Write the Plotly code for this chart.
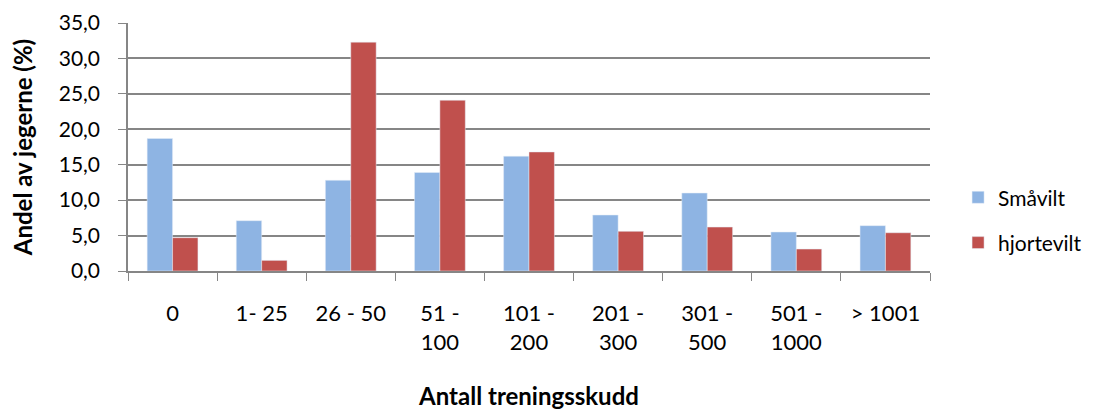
import plotly.graph_objects as go

# categories and values
kategorier = ["0", "1- 25", "26 - 50", "51 -<br>100", "101 -<br>200",
              "201 -<br>300", "301 -<br>500", "501 -<br>1000", "> 1001"]
smaavilt = [18.7, 7.1, 12.8, 13.9, 16.2, 7.9, 11.0, 5.5, 6.4]
hjortevilt = [4.7, 1.5, 32.3, 24.1, 16.8, 5.6, 6.2, 3.1, 5.4]
y_ticks = [0, 5, 10, 15, 20, 25, 30, 35]
y_labels = [f"{v:.1f}".replace(".", ",") for v in y_ticks]

font = "Lato, Open Sans, sans-serif"

fig = go.Figure()
fig.add_trace(go.Bar(x=kategorier, y=smaavilt, name="Småvilt",
                     marker_color="#8EB4E3", legendgroup="a"))
fig.add_trace(go.Bar(x=kategorier, y=hjortevilt, name="hjortevilt",
                     marker_color="#C0504D", legendgroup="b"))

# page body adds 8px margin, so the figure is a bit smaller than the window
fig.update_layout(
    width=1087, height=402,
    barmode="group", bargap=0.43, bargroupgap=0,
    paper_bgcolor="white", plot_bgcolor="white",
    margin=dict(l=120, r=165, t=15, b=139, autoexpand=False),
    font=dict(family=font, size=21, color="black"),
    legend=dict(x=1.035, y=0.205, yanchor="middle", xanchor="left",
                font=dict(size=21), tracegroupgap=15, itemwidth=30),
    showlegend=True,
)

fig.update_xaxes(
    type="category", tickson="boundaries", ticks="outside", ticklen=8,
    tickcolor="#868686", showline=True, linecolor="#868686", linewidth=1.5,
    showgrid=False, ticklabelstandoff=22, automargin=False,
    tickfont=dict(size=22),
    title=dict(text="<b>Antall treningsskudd</b>", font=dict(size=24), standoff=38),
)

fig.update_yaxes(
    range=[0, 35], tickvals=y_ticks, ticktext=y_labels,
    ticks="outside", ticklen=8, tickcolor="#868686",
    showline=True, linecolor="#868686", linewidth=1.5,
    showgrid=True, gridcolor="#868686", gridwidth=1.5,
    zeroline=False, ticklabelstandoff=14, automargin=False,
    title=dict(text="<b>Andel av jegerne (%)</b>", font=dict(size=24), standoff=30),
)

fig.write_html("out.html")
